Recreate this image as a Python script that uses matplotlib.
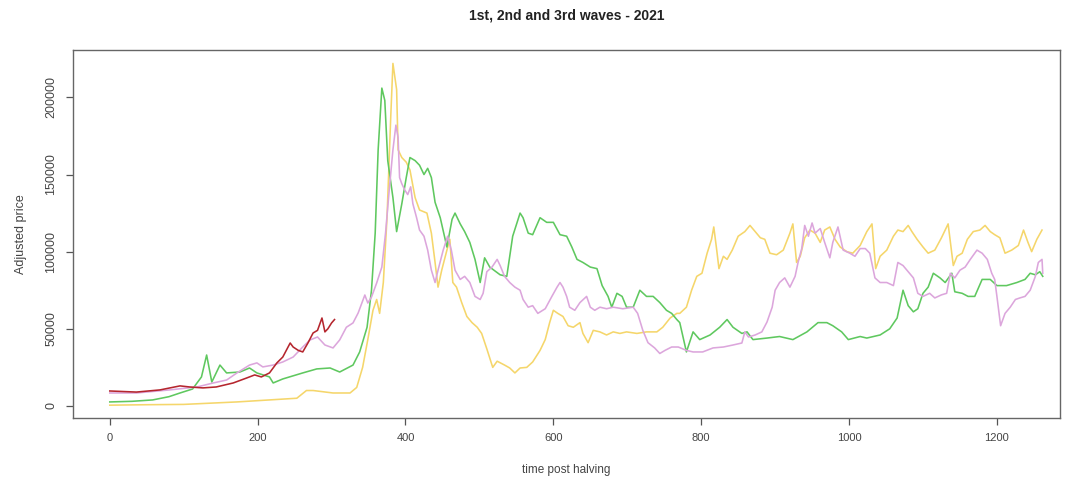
import matplotlib as mpl

mpl.use("Agg")

import matplotlib.pyplot as plt

# values (day after halving, adjusted price)
green_day = [0, 30, 58, 80, 95, 112, 124, 131, 138, 149, 158, 176, 189, 199, 216, 221, 234, 261,
             280, 298, 311, 329, 338, 348, 354, 359, 363, 368, 372, 376, 383, 388, 395, 401, 406,
             413, 419, 425, 430, 435, 440, 447, 456, 463, 467, 474, 480, 487, 494, 501, 507, 514,
             528, 537, 545, 555, 559, 566, 572, 582, 591, 600, 609, 618, 625, 632, 640, 650, 659,
             666, 674, 679, 686, 693, 699, 708, 717, 726, 735, 744, 753, 760, 767, 771, 780, 789,
             798, 812, 825, 835, 843, 855, 862, 870, 889, 906, 924, 943, 958, 970, 978, 990, 999,
             1015, 1024, 1042, 1055, 1065, 1073, 1080, 1087, 1093, 1100, 1107, 1114, 1123, 1130,
             1139, 1143, 1153, 1161, 1170, 1180, 1191, 1200, 1213, 1227, 1238, 1245, 1252, 1258,
             1262]
green_price = [2600, 3000, 3900, 6000, 8400, 11000, 18800, 33000, 15500, 26500, 21400, 22000,
               24600, 21400, 18800, 14900, 17500, 21400, 24000, 24600, 22000, 26500, 35000, 51000,
               75000, 112000, 166000, 206000, 198000, 159000, 135000, 113000, 131000, 148000,
               161000, 159000, 156000, 150000, 154000, 148000, 132000, 122000, 103000, 121000,
               125000, 118000, 113000, 106000, 95000, 80000, 96000, 90000, 85000, 84000, 110000,
               125000, 122000, 112000, 111000, 122000, 119000, 119000, 111000, 110000, 103000,
               95000, 93000, 90000, 89000, 78000, 71000, 64000, 73000, 71000, 64000, 64000, 75000,
               71000, 71000, 67000, 62000, 60000, 56000, 54000, 35000, 48000, 43000, 46000, 51000,
               56000, 51000, 47000, 48000, 43000, 44000, 45000, 43000, 48000, 54000, 54000, 52000,
               48000, 43000, 45000, 44000, 46000, 50000, 57000, 75000, 65000, 61000, 63000, 73000,
               77000, 86000, 83000, 80000, 86000, 74000, 73000, 71000, 71000, 82000, 82000, 78000,
               78000, 80000, 82000, 86000, 85000, 87000, 84000]

yellow_day = [0, 50, 100, 172, 216, 253, 266, 275, 302, 325, 334, 342, 349, 356, 361, 365, 370,
              375, 380, 383, 388, 390, 395, 401, 406, 413, 419, 429, 435, 440, 444, 449, 456, 460,
              464, 469, 476, 483, 490, 497, 503, 510, 518, 524, 534, 541, 548, 555, 564, 572, 582,
              589, 595, 600, 606, 613, 620, 627, 636, 640, 647, 654, 663, 672, 681, 690, 699, 713,
              726, 740, 748, 758, 767, 771, 780, 787, 794, 801, 808, 814, 817, 821, 824, 830, 835,
              842, 850, 859, 866, 873, 880, 886, 893, 902, 911, 920, 924, 929, 934, 940, 947, 954,
              961, 967, 974, 981, 988, 997, 1005, 1015, 1024, 1031, 1036, 1042, 1051, 1060, 1066,
              1073, 1080, 1085, 1092, 1100, 1107, 1116, 1125, 1134, 1141, 1146, 1153, 1160, 1168,
              1177, 1184, 1191, 1197, 1204, 1211, 1220, 1229, 1236, 1242, 1247, 1254, 1261]
yellow_price = [500, 800, 1000, 2600, 3900, 5000, 10000, 10000, 8400, 8400, 12000, 25000, 43000,
                62000, 69000, 60000, 80000, 122000, 187000, 222000, 205000, 166000, 161000,
                158000, 153000, 135000, 127000, 125000, 112000, 93000, 77000, 88000, 101000,
                108000, 80000, 77000, 67000, 58000, 54000, 51000, 47000, 37000, 25000, 29000,
                26500, 24600, 21400, 24600, 25000, 28500, 36000, 43000, 54000, 62000, 60000,
                58000, 52000, 51000, 54000, 47000, 41000, 49000, 48000, 46000, 48000, 47000,
                48000, 47000, 48000, 48000, 51000, 57000, 60000, 60000, 64000, 75000, 84000,
                86000, 99000, 108000, 116000, 101000, 89000, 97000, 95000, 101000, 110000,
                113000, 117000, 113000, 109000, 108000, 99000, 98000, 101000, 112000, 118000,
                93000, 97000, 109000, 114000, 112000, 106000, 114000, 116000, 108000, 103000,
                100000, 99000, 104000, 113000, 118000, 89000, 97000, 101000, 110000, 114000,
                113000, 117000, 113000, 108000, 103000, 99000, 101000, 109000, 118000, 91000,
                97000, 99000, 108000, 113000, 114000, 117000, 113000, 111000, 109000, 99000,
                101000, 104000, 114000, 106000, 100000, 108000, 114000]

pink_day = [0, 36, 81, 118, 140, 158, 172, 189, 199, 207, 221, 234, 248, 261, 271, 281, 291, 302,
            311, 320, 329, 336, 341, 345, 349, 354, 361, 368, 373, 378, 383, 387, 390, 392, 395,
            399, 403, 407, 410, 415, 419, 425, 430, 435, 440, 444, 451, 457, 462, 467, 474, 480,
            487, 494, 501, 505, 510, 517, 524, 528, 534, 541, 548, 555, 559, 566, 572, 579, 589,
            598, 605, 609, 613, 618, 622, 629, 636, 645, 650, 656, 663, 672, 681, 694, 708, 714,
            721, 728, 737, 744, 751, 760, 769, 780, 789, 802, 816, 830, 843, 855, 859, 864, 873,
            882, 889, 896, 900, 906, 913, 920, 927, 931, 936, 940, 945, 950, 954, 961, 967, 974,
            978, 985, 992, 1001, 1008, 1015, 1022, 1028, 1035, 1042, 1051, 1060, 1066, 1073, 1080,
            1087, 1093, 1100, 1109, 1116, 1125, 1132, 1137, 1143, 1150, 1157, 1164, 1173, 1180,
            1187, 1193, 1197, 1200, 1205, 1211, 1218, 1225, 1231, 1238, 1245, 1252, 1256, 1261,
            1262]
pink_price = [8400, 8400, 10400, 12300, 14900, 16800, 21400, 26500, 27900, 25300, 26500, 28500,
              31700, 38200, 42800, 44700, 39500, 37600, 42800, 51000, 53800, 60300, 66700, 71900,
              66700, 70600, 79700, 90000, 112000, 140000, 166000, 182000, 174000, 148000, 144000,
              140000, 137000, 142000, 131000, 122000, 114000, 110000, 101000, 88000, 80000, 88000,
              101000, 110000, 101000, 88000, 82000, 84000, 80000, 71000, 69000, 73000, 87000,
              90000, 95000, 91000, 84000, 80000, 77000, 75000, 69000, 64000, 65000, 60000, 63000,
              71000, 77000, 80000, 77000, 71000, 64000, 62000, 67000, 71000, 64000, 62000, 64000,
              63000, 64000, 63000, 64000, 60000, 49000, 41000, 37600, 34000, 36000, 38200, 38200,
              36000, 35000, 35000, 37600, 38200, 39500, 40800, 48000, 44700, 46000, 48000, 54400,
              64000, 75000, 80000, 83000, 77000, 84000, 93000, 102000, 117000, 110000, 118600,
              112000, 115000, 106000, 96000, 106000, 116000, 101000, 99000, 97000, 102000, 102000,
              99000, 83000, 80000, 80000, 78000, 93000, 91000, 87000, 83000, 73000, 71000, 73000,
              70000, 72000, 73000, 86000, 83000, 88000, 90000, 95000, 101000, 99000, 95000, 86000,
              82000, 71000, 52000, 60000, 64000, 69000, 70000, 71000, 75000, 84000, 93000, 95000,
              86000]

red_day = [0, 36, 68, 95, 108, 126, 144, 167, 185, 196, 205, 216, 226, 234, 244, 248, 255, 261,
           268, 275, 281, 287, 291, 295, 300, 304]
red_price = [9700, 9000, 10400, 13000, 12300, 11700, 12300, 14900, 18100, 20100, 18800, 21400,
             27900, 31700, 40800, 38200, 36000, 35000, 40800, 47300, 49000, 57000, 48000, 50000,
             53800, 56000]

y_ticks = [0, 50000, 100000, 150000, 200000]
x_ticks = [0, 200, 400, 600, 800, 1000, 1200]

plt.rcParams["font.family"] = ["Liberation Sans", "DejaVu Sans"]

fig = plt.figure(figsize=(10.71, 4.84), dpi=100)
ax = fig.add_axes([0.068, 0.1364, 0.9215, 0.7603])

lw = 1.15
ax.plot(yellow_day, yellow_price, color="#f5d66b", lw=lw)
ax.plot(green_day, green_price, color="#5fc85f", lw=lw)
ax.plot(pink_day, pink_price, color="#dca6dc", lw=lw)
ax.plot(red_day, red_price, color="#b5262e", lw=lw)

ax.set_xlim(-50, 1285)
ax.set_ylim(-7800, 230700)
ax.set_xticks(x_ticks)
ax.set_yticks(y_ticks)
ax.set_yticklabels([str(v) for v in y_ticks], rotation=90, va="center", fontsize=9, color="#444444")
ax.set_xticklabels([str(v) for v in x_ticks], fontsize=8, color="#444444")
ax.tick_params(axis="both", length=5, width=0.9, color="#555555", pad=6)

for s in ax.spines.values():
    s.set_color("#666666")
    s.set_linewidth(1.0)

ax.set_title("1st, 2nd and 3rd waves - 2021", fontsize=10, fontweight="bold", pad=22, color="#222222")
ax.set_xlabel("time post halving", fontsize=8.5, color="#444444")
ax.set_ylabel("Adjusted price", fontsize=9, color="#444444")
ax.xaxis.set_label_coords(0.5, -0.125)
ax.yaxis.set_label_coords(-0.046, 0.5)

fig.savefig("out.png", dpi=100, facecolor="white")
